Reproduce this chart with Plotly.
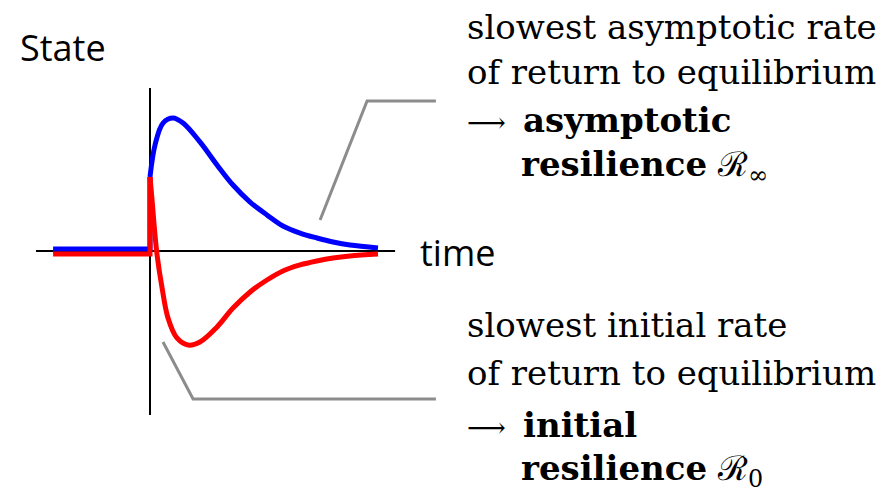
import plotly.graph_objects as go

# time and state (state = 0 is equilibrium)
pre_time = [-4.25, 0, 0]
blue_pre = [0.015, 0.015, 0.556]
red_pre = [-0.023, -0.023, 0.556]

blue_time = [0, 0.22, 0.57, 1.01, 1.45, 2.19, 2.94, 3.64, 4.39, 5.13, 5.83, 6.58, 7.32,
             8.03, 8.77, 10.0]
blue_state = [0.556, 0.797, 0.962, 1.0, 0.962, 0.820, 0.647, 0.496, 0.368, 0.271, 0.188,
              0.135, 0.098, 0.068, 0.045, 0.023]

red_time = [0, 0.09, 0.18, 0.31, 0.53, 0.79, 1.18, 1.67, 2.19, 2.94, 3.64, 4.39, 5.13,
            5.83, 6.58, 7.32, 8.03, 8.77, 10.0]
red_state = [0.556, 0.383, 0.195, -0.030, -0.278, -0.504, -0.654, -0.707, -0.684, -0.571,
             -0.429, -0.308, -0.218, -0.150, -0.105, -0.075, -0.053, -0.038, -0.023]

# page is 887x492, the plot div sits 8px in from the top-left (body margin)
OFF = 8
W, H = 887 - OFF, 492 - OFF
X0, Y0, SX, SY = 150, 251, 22.8, 133  # page pixel of the origin and pixels per unit

fig = go.Figure()
fig.add_trace(go.Scatter(x=pre_time, y=blue_pre, mode='lines',
                         line=dict(color='#0000ff', width=5)))
fig.add_trace(go.Scatter(x=blue_time, y=blue_state, mode='lines',
                         line=dict(color='#0000ff', width=5, shape='spline', smoothing=1)))
fig.add_trace(go.Scatter(x=pre_time, y=red_pre, mode='lines',
                         line=dict(color='#ff0000', width=5)))
fig.add_trace(go.Scatter(x=red_time, y=red_state, mode='lines',
                         line=dict(color='#ff0000', width=5, shape='spline', smoothing=1)))

# hand-drawn axes
fig.add_shape(type='line', x0=-5.0, x1=10.75, y0=0, y1=0, line=dict(color='black', width=2), layer='below')
fig.add_shape(type='line', x0=0, x1=0, y0=1.226, y1=-1.233, line=dict(color='black', width=2), layer='below')

# leader lines to the captions
fig.add_shape(type='path', path='M 7.46 0.233 L 9.52 1.128 L 12.54 1.128',
              line=dict(color='#8c8c8c', width=3))
fig.add_shape(type='path', path='M 0.57 -0.684 L 1.89 -1.113 L 12.54 -1.113',
              line=dict(color='#8c8c8c', width=3))


def px(x, y):
    return (x - OFF) / W, 1 - (y - OFF) / H


sans = 'Open Sans'
serif = 'DejaVu Serif'
fs = 34
notes = [
    ('State', 19, 47, sans, 36),
    ('time', 419, 252, sans, 36),
    ('slowest asymptotic rate', 466, 27, serif, fs),
    ('of return to equilibrium', 466, 72, serif, fs),
    ('⟶', 466, 122, serif, 27),
    ('<b>asymptotic</b>', 522, 120, serif, fs),
    ('<b>resilience</b> ℛ<sub>∞</sub>', 520, 166, serif, fs),
    ('slowest initial rate', 466, 325, serif, fs),
    ('of return to equilibrium', 466, 373, serif, fs),
    ('⟶', 466, 427, serif, 27),
    ('<b>initial</b>', 522, 425, serif, fs),
    ('<b>resilience</b> ℛ<sub>0</sub>', 520, 470, serif, fs),
]
for text, x, y, fam, size in notes:
    ax, ay = px(x, y)
    fig.add_annotation(x=ax, y=ay, xref='paper', yref='paper', text=text, showarrow=False,
                       xanchor='left', yanchor='middle', borderpad=0,
                       font=dict(family=fam, size=size, color='black'))

fig.update_layout(
    width=W, height=H, margin=dict(l=0, r=0, t=0, b=0),
    paper_bgcolor='white', plot_bgcolor='white', showlegend=False,
    xaxis=dict(range=[(OFF - X0) / SX, (887 - X0) / SX], visible=False, fixedrange=True),
    yaxis=dict(range=[(Y0 - 492) / SY, (Y0 - OFF) / SY], visible=False, fixedrange=True),
)

fig.write_html("out.html", config={'displayModeBar': False})
